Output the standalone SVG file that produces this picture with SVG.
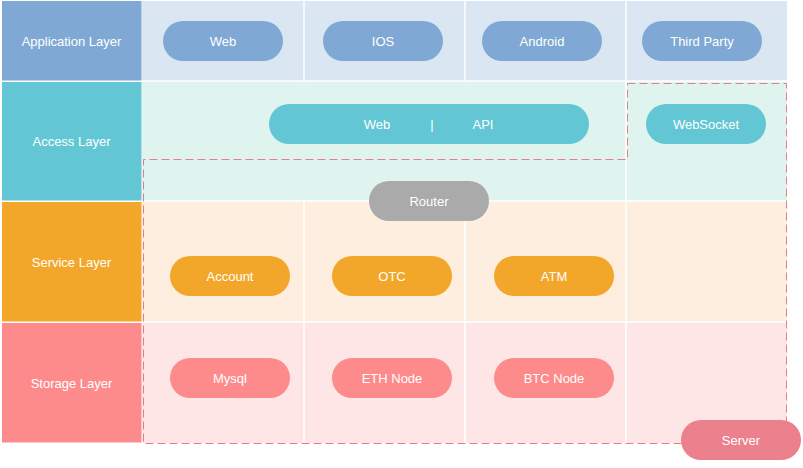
<svg xmlns="http://www.w3.org/2000/svg" width="803" height="468" viewBox="0 0 803 468">
<style>
text{font-family:"Liberation Sans",Arial,sans-serif;font-size:13px;fill:#ffffff;text-anchor:middle;dominant-baseline:central}
.app{fill:#7fa8d4}.acc{fill:#62c6d4}.svc{fill:#f2a72a}.sto{fill:#fd8b8b}.rt{fill:#aaaaaa}.srv{fill:#ec808d}
.appbg{fill:#dae6f1}.accbg{fill:#dff4ef}.svcbg{fill:#feeee0}.stobg{fill:#fee6e6}
.grid{stroke:#ffffff;stroke-width:1.5;fill:none}
</style>
<rect width="803" height="468" fill="#ffffff"/>
<g id="backgrounds">
<rect class="appbg" x="142" y="1" width="645" height="80"/>
<rect class="accbg" x="142" y="81" width="645" height="120"/>
<rect class="svcbg" x="142" y="201" width="645" height="121"/>
<rect class="stobg" x="142" y="322" width="645" height="121"/>
<path class="grid" d="M142 81H787M142 201H787M142 322H787M304 1V81M465 1V81M626 1V81M626 81V201M304 201V443M465 201V443M626 201V443"/>
</g>
<g id="header-application"><rect class="app" x="2" y="1" width="139.5" height="79.5"/><text x="71.5" y="41">Application Layer</text></g>
<g id="header-access"><rect class="acc" x="2" y="82" width="139.5" height="118.5"/><text x="71.5" y="141">Access Layer</text></g>
<g id="header-service"><rect class="svc" x="2" y="202" width="139.5" height="119.5"/><text x="71.5" y="262">Service Layer</text></g>
<g id="header-storage"><rect class="sto" x="2" y="323" width="139.5" height="119.5"/><text x="71.5" y="383">Storage Layer</text></g>
<g id="connectors">
<path d="M627.5 83.5H786.5V443.5H143.5V159.5H627.5Z" fill="none" stroke="#e57d8a" stroke-width="1" stroke-dasharray="8 4"/>
</g>
<g id="node-web"><rect class="app" x="163" y="21" width="120" height="40" rx="20"/><text x="223" y="41">Web</text></g>
<g id="node-ios"><rect class="app" x="323" y="21" width="120" height="40" rx="20"/><text x="383" y="41">IOS</text></g>
<g id="node-android"><rect class="app" x="482" y="21" width="120" height="40" rx="20"/><text x="542" y="41">Android</text></g>
<g id="node-thirdparty"><rect class="app" x="642" y="21" width="120" height="40" rx="20"/><text x="702" y="41">Third Party</text></g>
<g id="node-webapi"><rect class="acc" x="269" y="104" width="320" height="40" rx="20"/><text x="377" y="124">Web</text><text x="432" y="124">|</text><text x="483" y="124">API</text></g>
<g id="node-websocket"><rect class="acc" x="646" y="104" width="120" height="40" rx="20"/><text x="706" y="124">WebSocket</text></g>
<g id="node-router"><rect class="rt" x="369" y="181" width="120" height="40" rx="20"/><text x="429" y="201">Router</text></g>
<g id="node-account"><rect class="svc" x="170" y="256" width="120" height="40" rx="20"/><text x="230" y="276">Account</text></g>
<g id="node-otc"><rect class="svc" x="332" y="256" width="120" height="40" rx="20"/><text x="392" y="276">OTC</text></g>
<g id="node-atm"><rect class="svc" x="494" y="256" width="120" height="40" rx="20"/><text x="554" y="276">ATM</text></g>
<g id="node-mysql"><rect class="sto" x="170" y="358" width="120" height="40" rx="20"/><text x="230" y="378">Mysql</text></g>
<g id="node-ethnode"><rect class="sto" x="332" y="358" width="120" height="40" rx="20"/><text x="392" y="378">ETH Node</text></g>
<g id="node-btcnode"><rect class="sto" x="494" y="358" width="120" height="40" rx="20"/><text x="554" y="378">BTC Node</text></g>
<g id="node-server"><rect class="srv" x="681" y="420" width="120" height="40" rx="20"/><text x="741" y="440">Server</text></g>
</svg>
